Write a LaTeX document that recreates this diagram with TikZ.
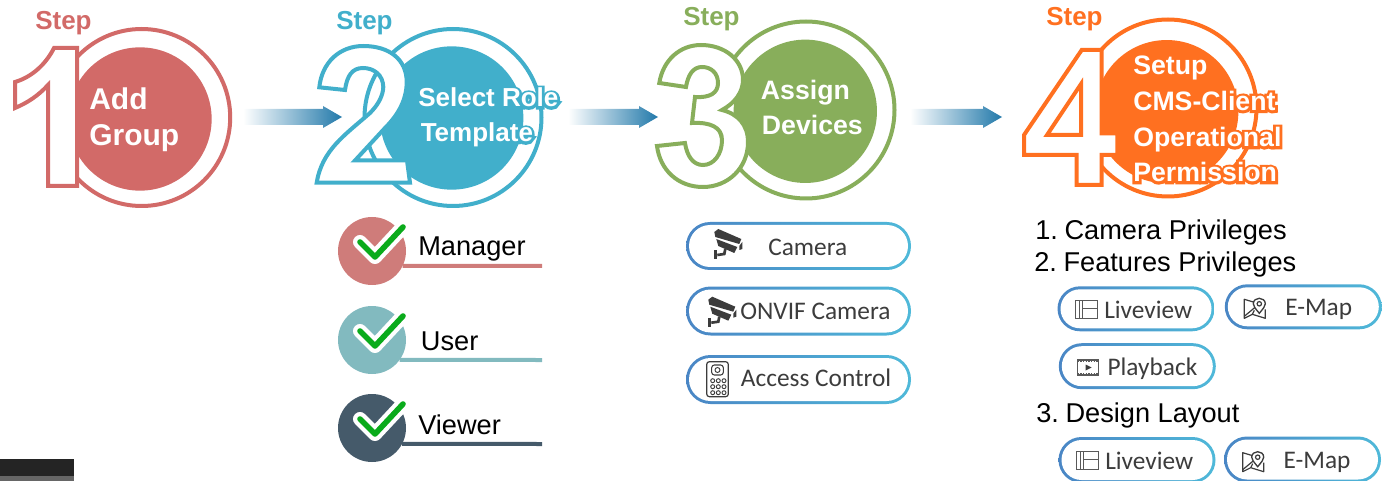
\documentclass[tikz,border=0pt]{standalone}
\usepackage{fontspec}
\setmainfont{Liberation Sans}
\newfontfamily\pillfont{Carlito}
\font\halofont="Liberation Sans/B:embolden=20" at 19.5pt
\font\halofontb="Liberation Sans/B:embolden=20" at 20pt
\usetikzlibrary{shapes.misc, calc, positioning}
\definecolor{stepred}{HTML}{D26A68}
\definecolor{stepblue}{HTML}{41AFCB}
\definecolor{stepgreen}{HTML}{88AE5B}
\definecolor{steporange}{HTML}{FF7020}
\definecolor{rolered}{HTML}{CF7C7A}
\definecolor{roleteal}{HTML}{82BABF}
\definecolor{roleslate}{HTML}{455A6A}
\definecolor{checkgreen}{HTML}{0AAB1B}
\definecolor{flowblue}{HTML}{2279AA}
\definecolor{pillleft}{HTML}{4A86C5}
\definecolor{pillright}{HTML}{4FB9D9}
\definecolor{pilltext}{HTML}{3C3C3C}
\newcommand*{\halo}[2]{\makebox[0pt][l]{\color{#1}\halofont #2}#2}
\newcommand*{\halob}[2]{\makebox[0pt][l]{\color{#1}\halofontb #2}#2}
\newcommand*{\flowarrow}[2]{\shade[left color=white, middle color=flowblue!65!white, right color=flowblue] ($(#1)+(0,-8)$) -- ($(#2)+(-19,-8)$) -- ($(#2)+(-19,-11)$) -- (#2) -- ($(#2)+(-19,11)$) -- ($(#2)+(-19,8)$) -- ($(#1)+(0,8)$) -- cycle;}
\newcommand*{\pillbox}[4]{\node[rounded rectangle, inner sep=0, outer sep=0, left color=pillleft, right color=pillright, minimum width=#3*.75pt, minimum height=#4*.75pt] (#1) at (#2) {};
 \node[rounded rectangle, inner sep=0, outer sep=0, fill=white, minimum width=#3*.75pt-4.5pt, minimum height=#4*.75pt-4.5pt] at (#1) {};}
\newcommand*{\roletick}[1]{\draw[line width=10.5pt, white, line cap=round, line join=round] ($(#1)+(-12,-9)$) -- ($(#1)+(3,6)$) -- ($(#1)+(31,-24)$);
 \draw[line width=4.2pt, checkgreen, line cap=round, line join=round] ($(#1)+(-12,-9)$) -- ($(#1)+(3,6)$) -- ($(#1)+(31,-24)$);}
\tikzset{
 ring/.style={circle, draw=#1, line width=3pt, fill=white, inner sep=0, outer sep=0, minimum size=132.75pt},
 disk/.style={circle, fill=#1, inner sep=0, outer sep=0, minimum size=107.5pt},
 digit/.style={draw=#1, line width=3pt, fill=white, line join=miter},
 steplabel/.style={anchor=base west, inner sep=0, text=#1, font=\bfseries\fontsize{19.5pt}{19.5pt}\selectfont},
 disktext/.style={anchor=base west, inner sep=0, text=white, font=\bfseries\fontsize{#1pt}{#1pt}\selectfont},
 rolecircle/.style={circle, fill=#1, inner sep=0, outer sep=0, minimum size=51pt},
 roleline/.style={draw=#1, line width=3pt},
 blacktext/.style={anchor=base west, inner sep=0, text=black, font=\fontsize{20.4pt}{20.4pt}\selectfont},
 pilltxt/.style={anchor=base west, inner sep=0, text=pilltext, font=\pillfont\fontsize{19pt}{19pt}\selectfont},
 camicon/.pic={
  \fill[pilltext] (0,3) -- (4,0) -- (27,10) -- (25,15) -- (1,8) -- cycle;
  \fill[pilltext] (2,10) -- (23,18) -- (20,24) -- (4,17) -- cycle;
  \fill[pilltext] (25,17) -- (28,13) -- (28,20) -- (25,21) -- cycle;
  \fill[pilltext] (0,21) rectangle (3,30);
  \draw[pilltext, line width=2pt] (3,26) -- (10,25) -- (11,20);
 },
 liveicon/.pic={
  \draw[pilltext!85!white, line width=.9pt] (0,0) rectangle (22,17.5);
  \draw[pilltext!85!white, line width=.7pt] (4,0) -- (4,17.5) (7,0) -- (7,17.5) (7,8) -- (22,8);
 },
 mapicon/.pic={
  \draw[pilltext, line width=.9pt, line join=round] (10,4) -- (0,1) -- (0,20) -- (8,16) -- (21,20) -- (21,11);
  \draw[pilltext, line width=.9pt] (0,18) -- (12,8) (8,16) -- (10,12);
  \draw[pilltext, line width=1pt, fill=white] (15,15) .. controls (11,10) and (9,8) .. (9,5.5) .. controls (9,2) and (12,0) .. (15,0) .. controls (18,0) and (21,2) .. (21,5.5) .. controls (21,8) and (19,10) .. (15,15) -- cycle;
  \draw[pilltext, line width=.9pt] (15,5.5) circle (2.2);
 },
 playicon/.pic={
  \draw[pilltext!85!white, line width=.9pt] (0,0) rectangle (21,15);
  \draw[pilltext!85!white, line width=1.4pt, dash pattern=on 1pt off 1pt] (0,1.5) -- (21,1.5) (0,13.5) -- (21,13.5);
  \fill[pilltext] (8,4.5) -- (14,7.5) -- (8,10.5) -- cycle;
 }
}
\begin{document}
\begin{tikzpicture}[x=.75pt, y=-.75pt]
 \useasboundingbox (0,0) rectangle (1386,481);
 \fill[black!86] (0,459) rectangle (74,476);
 \fill[black!60] (0,476) rectangle (74,481);

 \node[ring=stepred] (ring1) at (141.7,117.5) {};
 \node[disk=stepred] (disk1) at (140,119) {};
 \draw[digit=stepred] (15,82) .. controls (32,77) and (46,64) .. (54,48) -- (77,48) -- (77,186) -- (48,186) -- (48,85) .. controls (38,96) and (27,103) .. (15,108) -- cycle;
 \node[steplabel=stepred] (step1) at (35,30) {Step};
 \node[disktext=22.5] (add) at (89,110) {Add};
 \node[disktext=22.5] (group) at (89,146) {Group};

 \node[ring=stepblue] (ring2) at (453,117.5) {};
 \node[disk=stepblue] (disk2) at (451.7,118) {};
 \draw[digit=stepblue] (319.3,87.3) .. controls (322,62) and (340,46) .. (363.3,46) .. controls (390,46) and (406.7,60) .. (406.7,82) .. controls (406.7,100) and (398,115) .. (385,128) -- (355,160.5) -- (407,160.5) -- (410,182.7) -- (316.7,182.7) .. controls (322,150) and (345,135) .. (370,113) .. controls (378,105) and (383,96) .. (383.3,87) .. controls (383,75) and (374,68) .. (363,68) .. controls (352,68) and (347,76) .. (345,90) -- cycle;
 \node[steplabel=stepblue] (step2) at (336,30) {Step};
 \node[disktext=19.5] (selectrole) at (418,107) {\halo{stepblue}{Select Role}};
 \node[disktext=19.5] (template) at (420.5,142) {\halo{stepblue}{Template}};

 \node[ring=stepgreen] (ring3) at (806,110) {};
 \node[disk=stepgreen] (disk3) at (805.3,111.3) {};
 \draw[digit=stepgreen] (659.3,83) .. controls (663,60) and (680,45) .. (701,45) .. controls (725,45) and (743,60) .. (743,80) .. controls (743,92) and (735,103) .. (722,110) .. controls (738,114) and (748,125) .. (748,142) .. controls (748,168) and (728,187) .. (703,187) .. controls (678,187) and (660,170) .. (657,146) -- (685,143) .. controls (687,156) and (693,165) .. (703,165) .. controls (714,165) and (722,154) .. (722,140) .. controls (722,127) and (710,122) .. (692,123) -- (695,97) .. controls (710,98) and (718,93) .. (718,83) .. controls (718,73) and (711,67) .. (702,67) .. controls (693,67) and (688,75) .. (686,87) -- cycle;
 \node[steplabel=stepgreen] (step3) at (683,26) {Step};
 \node[disktext=20] (assign) at (760.7,99.5) {Assign};
 \node[disktext=20] (devices) at (761.7,134.5) {Devices};

 \node[ring=steporange] (ring4) at (1168,108) {};
 \node[disk=steporange] (disk4) at (1166.7,111.7) {};
 \draw[digit=steporange] (1081.7,50) -- (1101.7,50) -- (1101.7,133.3) -- (1117.3,133.3) -- (1117.3,155) -- (1101.7,155) -- (1101.7,185) -- (1076.7,185) -- (1076.7,155) -- (1024,155) -- (1024,135) -- cycle;
 \draw[digit=steporange] (1081,84) -- (1081,135) -- (1047,135) -- cycle;
 \node[steplabel=steporange] (step4) at (1046,26) {Step};
 \node[disktext=20] (setup) at (1133,75) {\halob{steporange}{Setup}};
 \node[disktext=20] (cmsclient) at (1133,110.5) {\halob{steporange}{CMS-Client}};
 \node[disktext=20] (operational) at (1133,146.7) {\halob{steporange}{Operational}};
 \node[disktext=20] (permission) at (1133,181.7) {\halob{steporange}{Permission}};

 \coordinate (flow1a) at (243,117);
 \coordinate (flow1b) at (342,117);
 \coordinate (flow2a) at (568,117);
 \coordinate (flow2b) at (658,117);
 \coordinate (flow3a) at (910,117);
 \coordinate (flow3b) at (1002,117);
 \flowarrow{flow1a}{flow1b}
 \flowarrow{flow2a}{flow2b}
 \flowarrow{flow3a}{flow3b}

 \node[rolecircle=rolered] (manager) at (372,251) {};
 \node[rolecircle=roleteal] (user) at (372,340) {};
 \node[rolecircle=roleslate] (viewer) at (372,428) {};
 \coordinate (managerend) at (542,266);
 \coordinate (userend) at (542,360);
 \coordinate (viewerend) at (542,444);
 \draw[roleline=rolered] (manager.-26) -- (managerend);
 \draw[roleline=roleteal] (user.-36) -- (userend);
 \draw[roleline=roleslate] (viewer.-28) -- (viewerend);
 \roletick{manager}
 \roletick{user}
 \roletick{viewer}
 \node[blacktext] (managertext) at (418,256) {Manager};
 \node[blacktext] (usertext) at (420.7,350) {User};
 \node[blacktext] (viewertext) at (418,434) {Viewer};

 \pillbox{camera}{798.5,246}{225}{48}
 \pillbox{onvif}{798.5,311}{225}{49}
 \pillbox{access}{798.5,379.5}{225}{49}
 \node[pilltxt] (cameratext) at (768,255.7) {Camera};
 \node[pilltxt] (onviftext) at (740,320) {ONVIF Camera};
 \node[pilltxt] (accesstext) at (740.7,386.7) {Access Control};
 \pic at (714.3,229) {camicon};
 \pic at (708.3,296.7) {camicon};
 \draw[pilltext, line width=.9pt, rounded corners=2pt] (706.7,361.7) rectangle (728.3,396.7);
 \draw[pilltext, line width=.8pt, rounded corners=2pt] (711.7,365) rectangle (723.3,375);
 \draw[pilltext, line width=.7pt] (717.5,370) circle (2.5);
 \foreach \dotx in {712.7,718.3,724} \foreach \doty in {380.7,386.7,392.7} \draw[pilltext, line width=.7pt] (\dotx,\doty) circle (2);

 \node[blacktext] (camerapriv) at (1035,239) {1.\kern-.75pt\ Camera Privileges};
 \node[blacktext] (featurepriv) at (1034,271.5) {2.\kern-.75pt\ Features Privileges};
 \node[blacktext] (designlayout) at (1036,422.5) {3.\kern-.75pt\ Design Layout};
 \pillbox{liveview}{1136,308.8}{157}{45}
 \pillbox{emap}{1303.3,306.8}{157}{45}
 \pillbox{playback}{1137.3,366.2}{157}{46}
 \pillbox{livelayout}{1137,460}{157}{46}
 \pillbox{emaplayout}{1302.5,459.5}{157}{46}
 \node[pilltxt] (liveviewtext) at (1104,318.3) {Liveview};
 \node[pilltxt] (emaptext) at (1285,315.7) {E-Map};
 \node[pilltxt] (playbacktext) at (1107.3,375.7) {Playback};
 \node[pilltxt] (livelayouttext) at (1105,469.3) {Liveview};
 \node[pilltxt] (emaplayouttext) at (1283.3,468.3) {E-Map};
 \pic at (1075.7,300.7) {liveicon};
 \pic at (1076.7,451.7) {liveicon};
 \pic at (1244.3,298.3) {mapicon};
 \pic at (1242.7,451.7) {mapicon};
 \pic at (1077.7,360) {playicon};
\end{tikzpicture}
\end{document}
